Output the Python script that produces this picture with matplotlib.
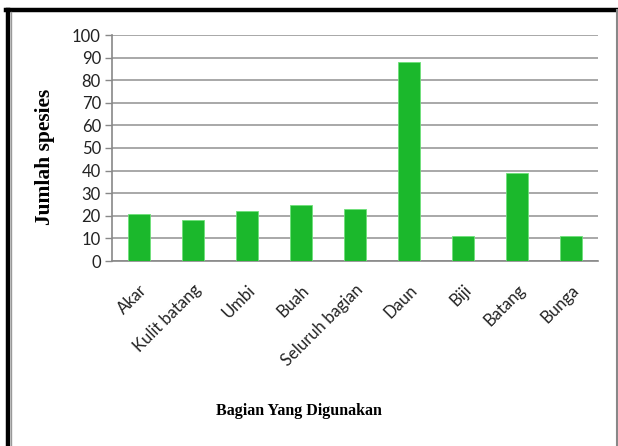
import matplotlib
matplotlib.use("Agg")
import matplotlib.pyplot as plt
from matplotlib.lines import Line2D

categories = ["Akar", "Kulit batang", "Umbi", "Buah", "Seluruh bagian",
              "Daun", "Biji", "Batang", "Bunga"]
values = [21, 18, 22, 25, 23, 88, 11, 39, 11]
yticks = [0, 10, 20, 30, 40, 50, 60, 70, 80, 90, 100]

fig = plt.figure(figsize=(6.18, 4.46), dpi=100)
ax = fig.add_axes([112/618, 1-261/446, 486/618, 226/446])

x = range(len(categories))
ax.bar(x, values, width=0.4, color="#1bb82c", edgecolor="#6fe07a", linewidth=0.6, zorder=3)
ax.set_xlim(-0.5, len(categories)-0.5)
ax.set_ylim(0, 100)
ax.set_yticks(yticks)
ax.set_yticklabels([str(v) for v in yticks], fontfamily="Lato", fontsize=12, color="#222222")
ax.set_xticks(list(x))
ax.set_xticklabels(categories, rotation=45, ha="right", rotation_mode="anchor",
                   fontfamily="Lato", fontsize=12, color="#222222")
ax.tick_params(axis="x", length=0, pad=15)
ax.tick_params(axis="y", length=5, color="#888888", width=1, pad=3)
ax.grid(axis="y", color="#9a9a9a", linewidth=1.2, zorder=0)
for s in ["top", "right"]:
    ax.spines[s].set_visible(False)
for s in ["left", "bottom"]:
    ax.spines[s].set_color("#888888")
    ax.spines[s].set_linewidth(1.2)

fig.text(45/618, 1-157/446, "Jumlah spesies", fontfamily="Liberation Serif",
         fontweight="bold", fontsize=15.5, rotation=90, ha="center", va="center")
fig.text(299/618, 1-411/446, "Bagian Yang Digunakan", fontfamily="Liberation Serif",
         fontweight="bold", fontsize=11.5, ha="center", va="center")

# image frame
fig.add_artist(Line2D([6/618, 617/618], [1-10/446, 1-10/446], color="black", lw=3.2,
                      transform=fig.transFigure))
fig.add_artist(Line2D([8/618, 8/618], [0, 1-10/446], color="black", lw=3.2,
                      transform=fig.transFigure))
fig.add_artist(Line2D([11/618, 11/618], [0, 1-12/446], color="#999999", lw=1,
                      transform=fig.transFigure))
fig.add_artist(Line2D([616.5/618, 616.5/618], [0, 1-10/446], color="#888888", lw=1.5,
                      transform=fig.transFigure))

fig.savefig("out.png", dpi=100)
